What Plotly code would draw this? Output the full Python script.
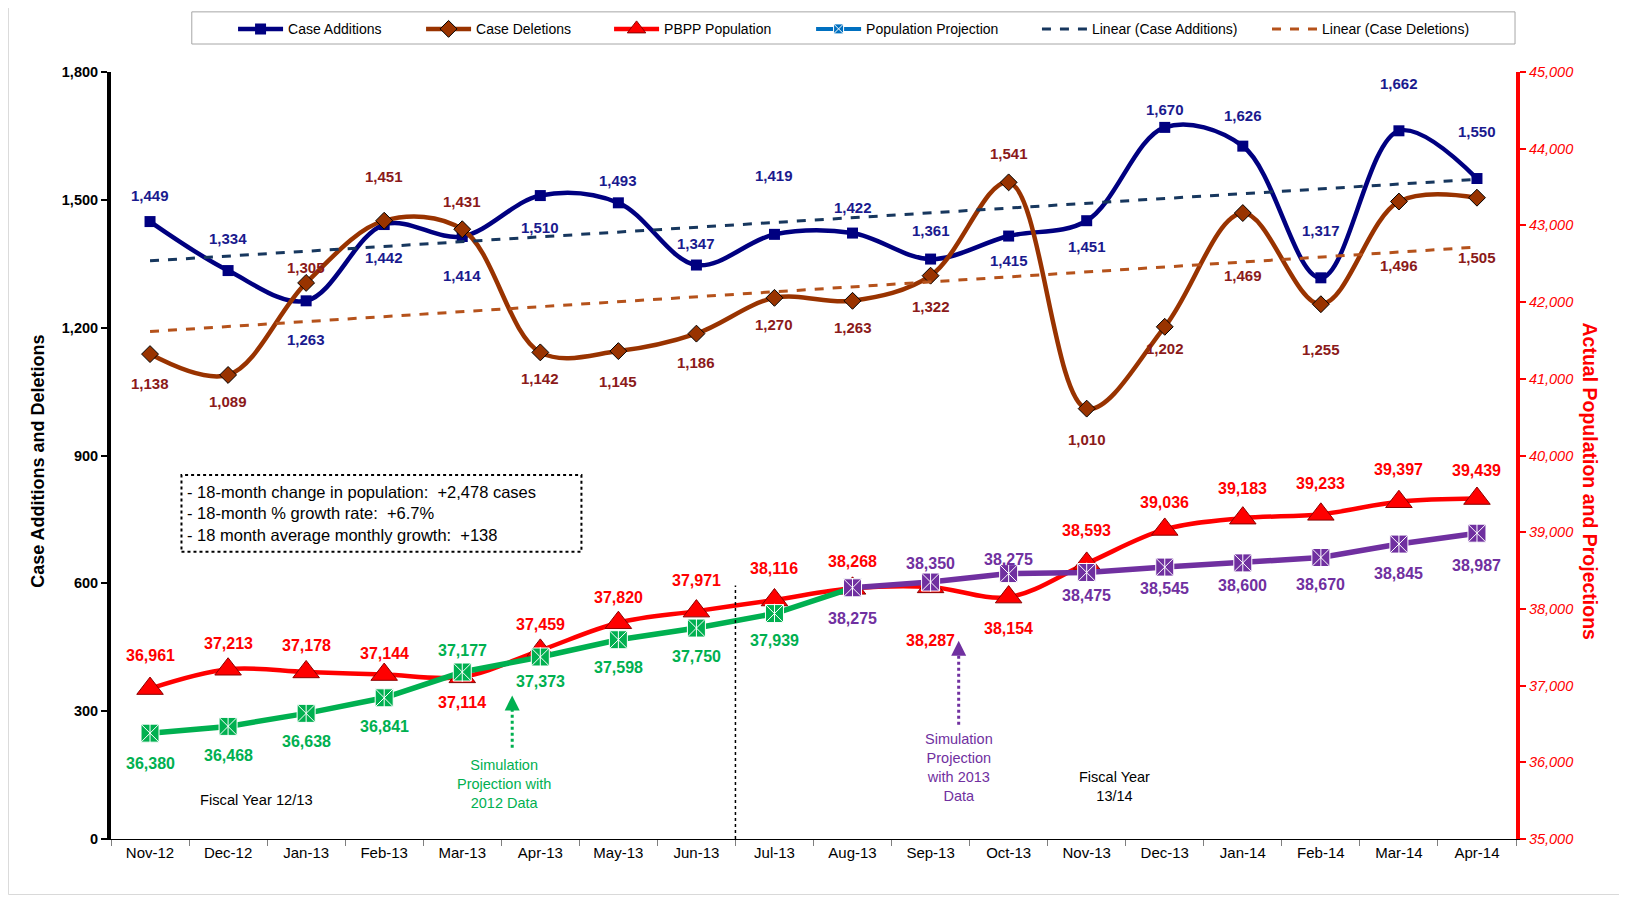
import numpy as np
import plotly.graph_objects as go

months = ["Nov-12", "Dec-12", "Jan-13", "Feb-13", "Mar-13", "Apr-13", "May-13", "Jun-13", "Jul-13",
          "Aug-13", "Sep-13", "Oct-13", "Nov-13", "Dec-13", "Jan-14", "Feb-14", "Mar-14", "Apr-14"]
case_additions = [1449, 1334, 1263, 1442, 1414, 1510, 1493, 1347, 1419, 1422, 1361, 1415, 1451, 1670, 1626, 1317, 1662, 1550]
case_deletions = [1138, 1089, 1305, 1451, 1431, 1142, 1145, 1186, 1270, 1263, 1322, 1541, 1010, 1202, 1469, 1255, 1496, 1505]
pbpp_population = [36961, 37213, 37178, 37144, 37114, 37459, 37820, 37971, 38116, 38268, 38287, 38154,
                   38593, 39036, 39183, 39233, 39397, 39439]
proj_2012_months = months[:10]
proj_2012 = [36380, 36468, 36638, 36841, 37177, 37373, 37598, 37750, 37939, 38275]
proj_2012_labels = ["36,380", "36,468", "36,638", "36,841", "37,177", "37,373", "37,598", "37,750", "37,939", ""]
proj_2013_months = months[9:]
proj_2013 = [38275, 38350, 38460, 38475, 38545, 38600, 38670, 38845, 38987]
proj_2013_labels = ["38,275", "38,350", "38,275", "38,475", "38,545", "38,600", "38,670", "38,845", "38,987"]

# label offsets in px (positive = below point)
add_off = [-25, -31, 37, 32, 38, 31, -22, -21, -57, -25, -28, 24, 25, -17, -30, -46, -46, -45]
del_off = [28, 26, -15, -43, -27, 25, 29, 28, 26, 26, 30, -28, 30, 21, 60, 44, 62, 58]
pop_off = [-32, -25, -26, -20, 25, -25, -24, -30, -30, -26, 52, 30, -32, -26, -29, -30, -31, -27]
p12_off = [29, 28, 27, 28, -21, 24, 27, 27, 26, 0]
p13_off = [30, -18, -14, 22, 21, 22, 26, 28, 31]
OFF_SCALE = 1.036

NAVY = "#000080"
BROWN = "#993300"
RED = "#FF0000"
GREEN = "#00B050"
PURPLE = "#7030A0"
FONT = "Arial, Liberation Sans, sans-serif"

idx = np.arange(len(months))
fit_a = np.polyfit(idx, case_additions, 1)
fit_d = np.polyfit(idx, case_deletions, 1)
trend_a = np.polyval(fit_a, idx)
trend_d = np.polyval(fit_d, idx)

fig = go.Figure()

fig.add_trace(go.Scatter(x=months, y=case_additions, name="Case Additions", mode="lines+markers",
                         line=dict(color=NAVY, width=4.5, shape="spline"), legend="legend",
                         marker=dict(symbol="square", size=11, color=NAVY)))
fig.add_trace(go.Scatter(x=months, y=case_deletions, name="Case Deletions", mode="lines+markers",
                         line=dict(color=BROWN, width=4.5, shape="spline"), legend="legend2",
                         marker=dict(symbol="diamond", size=13, color=BROWN, line=dict(color="black", width=1))))
fig.add_trace(go.Scatter(x=months, y=trend_a, name="Linear (Case Additions)", mode="lines", legend="legend5",
                         line=dict(color="#17375E", width=3, dash="dash")))
fig.add_trace(go.Scatter(x=months, y=trend_d, name="Linear (Case Deletions)", mode="lines", legend="legend6",
                         line=dict(color="#B5521B", width=3, dash="dash")))

fig.add_trace(go.Scatter(x=months, y=pbpp_population, name="PBPP Population", mode="lines+markers", yaxis="y2",
                         line=dict(color=RED, width=4.5, shape="spline"), legend="legend3",
                         marker=dict(symbol="triangle-up", size=23, color=RED, line=dict(color="#8B0000", width=1))))
fig.add_trace(go.Scatter(x=[None], y=[None], name="Population Projection", mode="lines+markers", yaxis="y2",
                         line=dict(color="#0070C0", width=4), legend="legend4",
                         marker=dict(symbol="square-x", size=10, color="#0070C0", line=dict(color="white", width=1))))
fig.add_trace(go.Scatter(x=proj_2012_months, y=proj_2012, mode="lines+markers", yaxis="y2", showlegend=False,
                         line=dict(color=GREEN, width=5.5),
                         marker=dict(symbol="square-x", size=18, color=GREEN, line=dict(color="white", width=1))))
fig.add_trace(go.Scatter(x=proj_2013_months, y=proj_2013, mode="lines+markers", yaxis="y2", showlegend=False,
                         line=dict(color=PURPLE, width=5.5),
                         marker=dict(symbol="square-x", size=18, color=PURPLE, line=dict(color="white", width=1))))
fig.add_trace(go.Scatter(x=proj_2012_months[:-1] + proj_2013_months, y=proj_2012[:-1] + proj_2013,
                         mode="markers", yaxis="y2", showlegend=False, hoverinfo="skip",
                         marker=dict(symbol="line-ns", size=14, color="white", line=dict(color="white", width=1))))

ann = []
def lab(xs, ys, texts, offs, color, yref, size):
    for xv, yv, t, o in zip(xs, ys, texts, offs):
        if not t:
            continue
        ann.append(dict(x=xv, y=yv, xref="x", yref=yref, text="<b>" + t + "</b>", showarrow=False,
                        yshift=-o * OFF_SCALE, font=dict(family=FONT, size=size, color=color)))

lab(months, case_additions, [f"{v:,}" for v in case_additions], add_off, "#1A1A8E", "y", 15)
lab(months, case_deletions, [f"{v:,}" for v in case_deletions], del_off, "#8B1A1A", "y", 15)
lab(months, pbpp_population, [f"{v:,}" for v in pbpp_population], pop_off, RED, "y2", 16)
lab(proj_2012_months, proj_2012, proj_2012_labels, p12_off, GREEN, "y2", 16)
lab(proj_2013_months, proj_2013, proj_2013_labels, p13_off, PURPLE, "y2", 16)

ann += [
    dict(x=0.45, y=764, xref="x", yref="y", xanchor="left", align="left", showarrow=False,
         text="- 18-month change in population:  +2,478 cases<br>- 18-month % growth rate:  +6.7%<br>"
              "- 18 month average monthly growth:  +138",
         font=dict(family=FONT, size=16.5, color="black")),
    dict(x=1.37, y=92, xref="x", yref="y", showarrow=False, text="Fiscal Year 12/13",
         font=dict(family=FONT, size=14.7, color="black")),
    dict(x=4.54, y=129, xref="x", yref="y", showarrow=False, text="Simulation<br>Projection with<br>2012 Data",
         font=dict(family=FONT, size=14.5, color=GREEN)),
    dict(x=10.36, y=168, xref="x", yref="y", showarrow=False, text="Simulation<br>Projection<br>with 2013<br>Data",
         font=dict(family=FONT, size=14.5, color=PURPLE)),
    dict(x=12.35, y=124, xref="x", yref="y", showarrow=False, text="Fiscal Year<br>13/14",
         font=dict(family=FONT, size=14.5, color="black")),
    dict(x=4.64, y=337, xref="x", yref="y", ax=0, ay=10, showarrow=True, arrowhead=2, arrowsize=1,
         arrowwidth=3, arrowcolor=GREEN, text=""),
    dict(x=10.36, y=465, xref="x", yref="y", ax=0, ay=10, showarrow=True, arrowhead=2, arrowsize=1,
         arrowwidth=3, arrowcolor=PURPLE, text=""),
    dict(x=-0.0605, y=0.493, xref="paper", yref="paper", showarrow=False, textangle=-90,
         text="<b>Case Additions and Deletions</b>", font=dict(family=FONT, size=18, color="black")),
    dict(x=1.062, y=0.466, xref="paper", yref="paper", showarrow=False, textangle=90,
         text="<b>Actual Population and Projections</b>", font=dict(family=FONT, size=19.5, color=RED)),
]

shapes = [
    dict(type="line", x0=7.5, x1=7.5, y0=0, y1=595, xref="x", yref="y",
         line=dict(color="black", width=1.5, dash="dot")),
    dict(type="rect", x0=0.403, x1=5.527, y0=674, y1=854, xref="x", yref="y",
         line=dict(color="black", width=2, dash="dot")),
    dict(type="line", x0=4.64, x1=4.64, y0=214, y1=322, xref="x", yref="y",
         line=dict(color=GREEN, width=3, dash="dot")),
    dict(type="line", x0=10.36, x1=10.36, y0=268, y1=450, xref="x", yref="y",
         line=dict(color=PURPLE, width=3, dash="dot")),
    # legend frame
    dict(type="rect", x0=0.0575, x1=0.9993, y0=1.0365, y1=1.0784, xref="paper", yref="paper",
         line=dict(color="#A6A6A6", width=1), layer="below"),
    # faint chart-area border (left and bottom)
    dict(type="line", x0=-0.073, x1=-0.073, y0=-0.0724, y1=1.0834, xref="paper", yref="paper",
         line=dict(color="#D9D9D9", width=1), layer="below"),
    dict(type="line", x0=-0.073, x1=1.0733, y0=-0.0724, y1=-0.0724, xref="paper", yref="paper",
         line=dict(color="#D9D9D9", width=1), layer="below"),
]

legend_x = [0.1397, 0.2564, 0.3731, 0.4985, 0.6387, 0.7815]
legends = {}
for i, lx in enumerate(legend_x):
    key = "legend" if i == 0 else f"legend{i + 1}"
    legends[key] = dict(orientation="h", xref="container", yref="container", x=lx, xanchor="left",
                        y=0.976, yanchor="middle", borderwidth=0, bgcolor="rgba(0,0,0,0)",
                        itemwidth=45, font=dict(family=FONT, size=14, color="black"))

fig.update_layout(
    width=1611, height=887,
    margin=dict(l=103, r=103, t=64, b=56),
    paper_bgcolor="white", plot_bgcolor="white",
    font=dict(family=FONT, color="black"),
    showlegend=True,
    xaxis=dict(type="category", categoryorder="array", categoryarray=months, range=[-0.5, 17.5],
               showline=True, linecolor="black", linewidth=1, ticks="outside", tickson="boundaries",
               ticklen=6, tickcolor="#7F7F7F", tickfont=dict(family=FONT, size=15, color="black"),
               showgrid=False, zeroline=False),
    yaxis=dict(range=[0, 1800], dtick=300, tickformat=",", showline=True, linecolor="black", linewidth=4,
               ticks="outside", ticklen=6, tickwidth=2, tickcolor="black", showgrid=False, zeroline=False,
               tickfont=dict(family=FONT, size=14.5, color="black", weight="bold")),
    yaxis2=dict(range=[35000, 45000], dtick=1000, tickformat=",", overlaying="y", side="right",
                showline=True, linecolor=RED, linewidth=4, ticks="outside", ticklen=6, tickwidth=2,
                tickcolor=RED, showgrid=False, zeroline=False,
                tickfont=dict(family=FONT, size=14.5, color=RED, style="italic")),
    annotations=ann,
    shapes=shapes,
    hovermode=False,
    **legends,
)

fig.write_html("out.html")
